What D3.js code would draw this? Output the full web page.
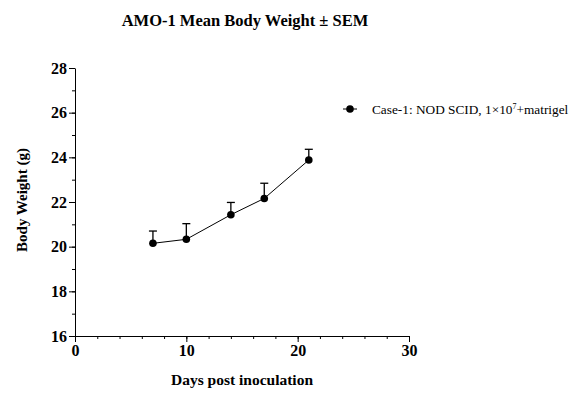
<!DOCTYPE html>
<html>
<head>
<meta charset="utf-8">
<script src="https://cdn.jsdelivr.net/npm/d3@7"></script>
<style>
	body { margin: 0; background: #fff; }
	svg text { font-family: "Liberation Serif", "Times New Roman", serif; fill: #000; }
</style>
</head>
<body>
<svg id="chart" width="581" height="420"></svg>
<script>
// values
const days = [7, 10, 14, 17, 21];
const meanWeight = [20.15, 20.33, 21.43, 22.16, 23.88];
const semWeight = [0.55, 0.7, 0.55, 0.68, 0.48];
const xTicks = [0, 10, 20, 30];
const yTicks = [16, 18, 20, 22, 24, 26, 28];
const seriesName = 'Case-1: NOD SCID, 1×10';

var svg = d3.select('#chart');
var plot = {left: 75, right: 409, top: 68, bottom: 336};

var x = d3.scaleLinear().domain([0, 30]).range([plot.left, plot.right]);
var y = d3.scaleLinear().domain([16, 28]).range([plot.bottom, plot.top]);

// title
svg.append('text')
	.attr('x', 245).attr('y', 26)
	.attr('text-anchor', 'middle')
	.style('font-size', '16.5px').style('font-weight', 'bold')
	.text('AMO-1 Mean Body Weight ± SEM');

// x axis, major + minor ticks
var xAxis = svg.append('g').attr('transform', 'translate(0,' + plot.bottom + ')');
xAxis.call(d3.axisBottom(x).tickValues(d3.range(0, 31, 2)).tickSize(3).tickFormat(''))
	.call(g => g.select('.domain').remove());
xAxis.append('g')
	.call(d3.axisBottom(x).tickValues(xTicks).tickSize(6).tickSizeOuter(0).tickPadding(3))
	.call(g => g.selectAll('text').style('font-size', '16px').style('font-weight', 'bold').style('font-family', '"Liberation Serif", serif'));

// y axis
var yAxis = svg.append('g').attr('transform', 'translate(' + plot.left + ',0)');
yAxis.call(d3.axisLeft(y).tickValues(d3.range(16, 29, 1)).tickSize(3).tickFormat(''))
	.call(g => g.select('.domain').remove());
yAxis.append('g')
	.call(d3.axisLeft(y).tickValues(yTicks).tickSize(6).tickSizeOuter(0).tickPadding(2))
	.call(g => g.selectAll('text').style('font-size', '16px').style('font-weight', 'bold').style('font-family', '"Liberation Serif", serif'));

svg.selectAll('.tick line, .domain').attr('stroke', '#000').attr('stroke-width', 1);

// axis titles
svg.append('text')
	.attr('x', 242).attr('y', 385)
	.attr('text-anchor', 'middle')
	.style('font-size', '15.5px').style('font-weight', 'bold')
	.text('Days post inoculation');

svg.append('text')
	.attr('transform', 'translate(27,200) rotate(-90)')
	.attr('text-anchor', 'middle')
	.style('font-size', '15px').style('font-weight', 'bold')
	.text('Body Weight (g)');

// data
var points = days.map((d, i) => ({day: d, mean: meanWeight[i], sem: semWeight[i]}));

var bars = svg.append('g').attr('stroke', '#000').attr('stroke-width', 1.3);
bars.selectAll('line.err')
	.data(points).enter().append('line')
	.attr('class', 'err')
	.attr('x1', d => x(d.day)).attr('x2', d => x(d.day))
	.attr('y1', d => y(d.mean)).attr('y2', d => y(d.mean + d.sem));
bars.selectAll('line.cap')
	.data(points).enter().append('line')
	.attr('class', 'cap')
	.attr('x1', d => x(d.day) - 4).attr('x2', d => x(d.day) + 4)
	.attr('y1', d => y(d.mean + d.sem)).attr('y2', d => y(d.mean + d.sem));

svg.append('path')
	.datum(points)
	.attr('fill', 'none').attr('stroke', '#000').attr('stroke-width', 1)
	.attr('d', d3.line().x(d => x(d.day)).y(d => y(d.mean)));

svg.append('g').selectAll('circle')
	.data(points).enter().append('circle')
	.attr('cx', d => x(d.day)).attr('cy', d => y(d.mean))
	.attr('r', 3.8).attr('fill', '#000');

// legend
var legend = svg.append('g').attr('transform', 'translate(343,109)');
legend.append('line').attr('x1', 0).attr('x2', 14).attr('y1', 0).attr('y2', 0).attr('stroke', '#000');
legend.append('circle').attr('cx', 7).attr('cy', 0).attr('r', 3.8).attr('fill', '#000');
var legendText = legend.append('text')
	.attr('x', 29).attr('y', 4.5)
	.style('font-size', '13.3px');
legendText.append('tspan').text(seriesName);
legendText.append('tspan').attr('dy', -5).style('font-size', '8px').text('7');
legendText.append('tspan').attr('dy', 5).text('+matrigel');
</script>
</body>
</html>
